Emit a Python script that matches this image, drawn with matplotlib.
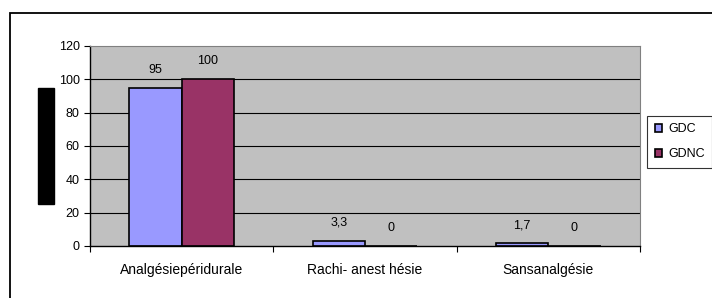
import matplotlib.pyplot as plt
import numpy as np
from matplotlib.patches import Rectangle

plt.rcParams["font.family"] = ["Liberation Sans", "DejaVu Sans"]

categories = ["Analgésiepéridurale", "Rachi- anest hésie", "Sansanalgésie"]
gdc = [95, 3.3, 1.7]
gdnc = [100, 0, 0]
gdc_labels = ["95", "3,3", "1,7"]
gdnc_labels = ["100", "0", "0"]
yticks = [0, 20, 40, 60, 80, 100, 120]

W, H = 712, 298
fig = plt.figure(figsize=(W / 100, H / 100), dpi=100)
ax = fig.add_axes([90 / W, 1 - 246 / H, 550 / W, 200 / H])

x = np.arange(len(categories))
bw = 0.285
ax.set_facecolor("#C0C0C0")
for yv in yticks[1:-1]:
    ax.axhline(yv, color="black", linewidth=0.8, zorder=1)

b1 = ax.bar(x - bw / 2, gdc, bw, color="#9999FF", edgecolor="black",
            linewidth=1.2, zorder=2, label="GDC")
b2 = ax.bar(x + bw / 2, gdnc, bw, color="#993366", edgecolor="black",
            linewidth=1.2, zorder=2, label="GDNC")

for bars, labs in ((b1, gdc_labels), (b2, gdnc_labels)):
    for rect, lab in zip(bars, labs):
        ax.annotate(lab, (rect.get_x() + rect.get_width() / 2, rect.get_height()),
                    xytext=(0, 13), textcoords="offset points",
                    ha="center", va="center", fontsize=9)

ax.set_xlim(-0.5, 2.5)
ax.set_ylim(0, 120)
ax.set_yticks(yticks)
ax.tick_params(axis="y", direction="out", length=4, labelsize=9, width=0.8)
ax.set_xticks([-0.5, 0.5, 1.5, 2.5])
ax.set_xticklabels([])
ax.set_xticks(x, minor=True)
ax.set_xticklabels(categories, minor=True, fontsize=10)
ax.tick_params(axis="x", which="major", direction="out", length=4, width=0.8)
ax.tick_params(axis="x", which="minor", length=0, pad=12)

for s in ("top", "right"):
    ax.spines[s].set_color("#808080")
for s in ("left", "bottom"):
    ax.spines[s].set_color("black")
    ax.spines[s].set_linewidth(1.0)

# redacted y-axis title block
fig.patches.append(Rectangle((38 / W, 1 - 204 / H), 16 / W, 116 / H,
                             transform=fig.transFigure, color="black"))
# outer chart border
fig.patches.append(Rectangle((9.5 / W, -0.05), 1.1, 1 - 13 / H + 0.05,
                             transform=fig.transFigure, fill=False,
                             edgecolor="black", linewidth=1.3))

leg = fig.legend(handles=[b1, b2], loc="upper left",
                 bbox_to_anchor=(647 / W, 1 - 116 / H), fontsize=9,
                 frameon=True, fancybox=False, handlelength=0.6,
                 handleheight=0.6, handletextpad=0.5, borderpad=0.6,
                 labelspacing=1.0, borderaxespad=0)
leg.get_frame().set_edgecolor("black")
leg.get_frame().set_linewidth(0.8)

fig.savefig("out.png", dpi=100)
